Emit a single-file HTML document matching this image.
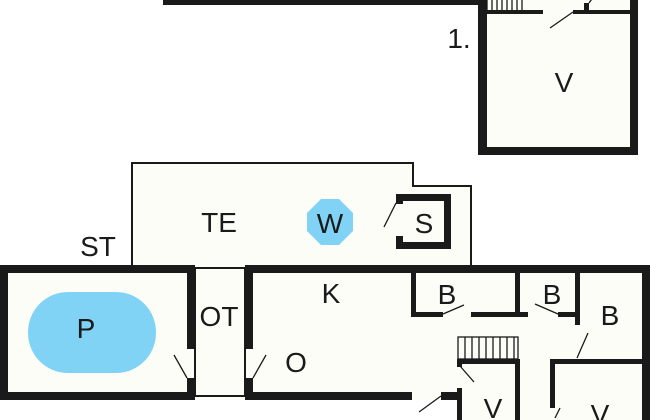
<!DOCTYPE html>
<html><head><meta charset="utf-8"><style>
html,body{margin:0;padding:0;background:#fff;width:650px;height:420px;overflow:hidden}
svg{display:block}
text{font-family:"Liberation Sans",sans-serif;font-size:28px;fill:#1a1a1a;text-anchor:middle}
</style></head><body>
<svg width="650" height="420" viewBox="0 0 650 420">
<rect x="478" y="0" width="160" height="155" fill="#fdfdf8"/>
<polygon points="132,163 413,163 413,186 471,186 471,268 132,268" fill="#fdfdf8" stroke="#1a1a1a" stroke-width="2"/>
<rect x="0" y="265" width="650" height="155" fill="#fdfdf8"/>
<rect x="0" y="400" width="457" height="20" fill="#fff"/>
<rect x="195" y="268" width="50" height="128" fill="#fdfdf8" stroke="#1a1a1a" stroke-width="2"/>
<g fill="#1a1a1a">
<rect x="163" y="0" width="322" height="5"/>
<rect x="478" y="0" width="9" height="155"/>
<rect x="630" y="0" width="8" height="155"/>
<rect x="478" y="147" width="160" height="8"/>
<rect x="487" y="10" width="56" height="4"/>
<rect x="573" y="10" width="57" height="4"/>
<rect x="584" y="3" width="5" height="8"/>
<rect x="396" y="194" width="55" height="7"/>
<rect x="396" y="242" width="55" height="7"/>
<rect x="444" y="194" width="7" height="55"/>
<rect x="396" y="194" width="7" height="10"/>
<rect x="396" y="236" width="7" height="13"/>
<rect x="0" y="265" width="195" height="8"/>
<rect x="0" y="265" width="8" height="135"/>
<rect x="0" y="392" width="195" height="8"/>
<rect x="187" y="265" width="8" height="84"/>
<rect x="187" y="378" width="8" height="22"/>
<rect x="245" y="265" width="405" height="8"/>
<rect x="245" y="265" width="8" height="84"/>
<rect x="245" y="378" width="8" height="22"/>
<rect x="245" y="392" width="167" height="8"/>
<rect x="441" y="392" width="21" height="8"/>
<rect x="642" y="265" width="8" height="155"/>
<rect x="411" y="265" width="5" height="52"/>
<rect x="411" y="312" width="32" height="5"/>
<rect x="471" y="312" width="57" height="5"/>
<rect x="515" y="265" width="5" height="52"/>
<rect x="558" y="312" width="21" height="5"/>
<rect x="575" y="265" width="5" height="60"/>
<rect x="457" y="359" width="62" height="5"/>
<rect x="457" y="359" width="5" height="8"/>
<rect x="457" y="388" width="5" height="32"/>
<rect x="515" y="359" width="5" height="61"/>
<rect x="550" y="359" width="92" height="5"/>
<rect x="550" y="359" width="5" height="49"/>
</g>
<g stroke="#1a1a1a" stroke-width="1.3" fill="none">
<path d="M487,0V10M492,0V10M497,0V10M502,0V10M507,0V10M512,0V10M517,0V10M522,0V10"/>
<rect x="458" y="337" width="60" height="22"/>
<path d="M465,337V359M472,337V359M479,337V359M486,337V359M493,337V359M500,337V359M507,337V359M514,337V359"/>
<path d="M573,12L550,28"/>
<path d="M589,3L594,-4"/>
<path d="M396,203L384,227"/>
<path d="M187,378L174,355"/>
<path d="M253,378L266,355"/>
<path d="M443,314L464,305"/>
<path d="M558,314L535,304"/>
<path d="M577,358L588,333"/>
<path d="M460,366L474,382"/>
<path d="M441,396L419,412"/>
<path d="M555,418L560,408"/>
</g>
<rect x="28" y="292" width="128" height="81" rx="40" fill="#80d3f5"/>
<polygon points="321,199 339,199 353,213 353,231 339,245 321,245 307,231 307,213" fill="#80d3f5"/>
<text x="564" y="92">V</text>
<text x="459" y="48">1.</text>
<text x="219" y="232">TE</text>
<text x="330" y="233">W</text>
<text x="424" y="233">S</text>
<text x="98" y="256">ST</text>
<text x="86" y="338">P</text>
<text x="219" y="326">OT</text>
<text x="331" y="303">K</text>
<text x="447" y="304">B</text>
<text x="552" y="304">B</text>
<text x="610" y="325">B</text>
<text x="296" y="372">O</text>
<text x="493" y="418">V</text>
<text x="600" y="424">V</text>
</svg>
</body></html>
